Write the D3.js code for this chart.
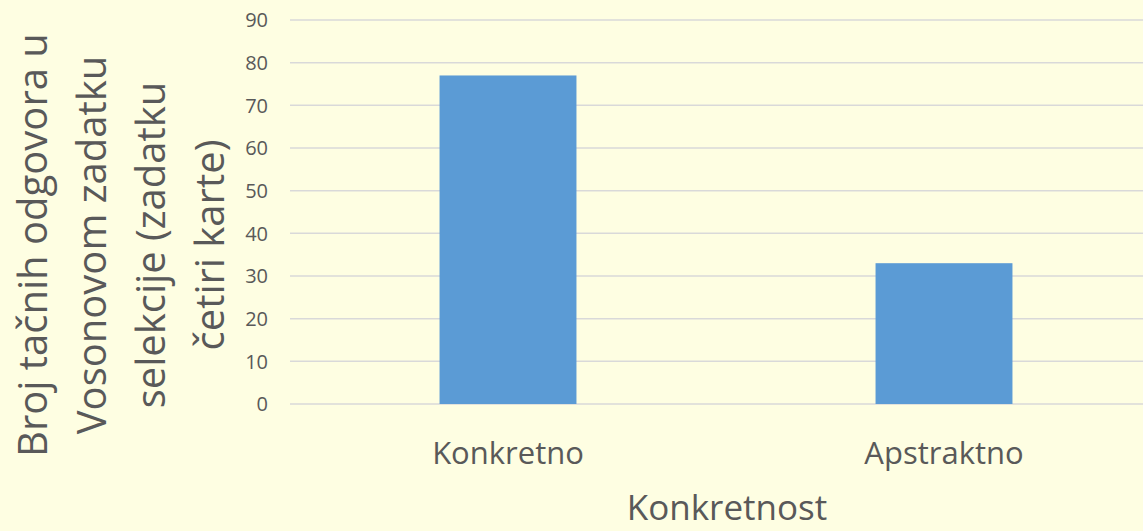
<!DOCTYPE html>
<html>
<head>
<meta charset="utf-8">
<script src="https://cdn.jsdelivr.net/npm/d3@7/dist/d3.min.js"></script>
<style>
  html, body { margin: 0; padding: 0; background: #FEFEE2; }
  svg { display: block; }
</style>
</head>
<body>
<svg id="chart" width="1143" height="531"></svg>
<script>
// Data
const categories = ['Konkretno', 'Apstraktno'];
const values     = [77, 33];
const yTicks     = [0, 10, 20, 30, 40, 50, 60, 70, 80, 90];
const yTitleLines = ['Broj tačnih odgovora u', 'Vosonovom zadatku', 'selekcije (zadatku', 'četiri karte)'];
const xTitle = 'Konkretnost';

const W = 1143, H = 531;
const BG   = '#FEFEE2';
const BAR  = '#5B9BD5';
const GRID = '#D9D9D9';
const TEXT = '#595959';
const FONT = "'Open Sans', sans-serif";

const svg = d3.select('#chart');
svg.append('rect').attr('width', W).attr('height', H).attr('fill', BG);

// plot area (right side runs past the window edge, as in the reference)
const plotLeft = 290, plotRight = 1162, plotTop = 20, plotBottom = 404;

const y = d3.scaleLinear().domain([0, 90]).range([plotBottom, plotTop]);
const x = d3.scaleBand().domain(categories).range([plotLeft, plotRight])
  .paddingInner(0.686).paddingOuter(0.343);

// gridlines
svg.append('g').selectAll('line')
  .data(yTicks)
  .join('line')
  .attr('x1', plotLeft).attr('x2', W)
  .attr('y1', d => y(d)).attr('y2', d => y(d))
  .attr('stroke', GRID).attr('stroke-width', 1.5);

// y tick labels
svg.append('g').selectAll('text')
  .data(yTicks)
  .join('text')
  .attr('x', 268)
  .attr('y', d => y(d))
  .attr('dy', '0.36em')
  .attr('text-anchor', 'end')
  .attr('font-family', FONT)
  .attr('font-size', 20)
  .attr('fill', TEXT)
  .text(d => d);

// bars
svg.append('g').selectAll('rect')
  .data(categories.map((c, i) => ({ c, v: values[i] })))
  .join('rect')
  .attr('x', d => x(d.c))
  .attr('width', x.bandwidth())
  .attr('y', d => y(d.v))
  .attr('height', d => y(0) - y(d.v))
  .attr('fill', BAR);

// category labels
svg.append('g').selectAll('text')
  .data(categories)
  .join('text')
  .attr('x', d => x(d) + x.bandwidth() / 2)
  .attr('y', 464)
  .attr('text-anchor', 'middle')
  .attr('font-family', FONT)
  .attr('font-size', 31)
  .attr('fill', TEXT)
  .text(d => d);

// x axis title
svg.append('text')
  .attr('x', 727)
  .attr('y', 520)
  .attr('text-anchor', 'middle')
  .attr('font-family', FONT)
  .attr('font-size', 35)
  .attr('fill', TEXT)
  .text(xTitle);

// y axis title (rotated, four lines)
const yt = svg.append('text')
  .attr('transform', 'translate(33,245) rotate(-90)')
  .attr('text-anchor', 'middle')
  .attr('font-family', FONT)
  .attr('font-size', 40)
  .attr('fill', TEXT);
yt.selectAll('tspan')
  .data(yTitleLines)
  .join('tspan')
  .attr('x', 0)
  .attr('y', (d, i) => i * 59)
  .attr('dy', '0.36em')
  .text(d => d);
</script>
</body>
</html>
